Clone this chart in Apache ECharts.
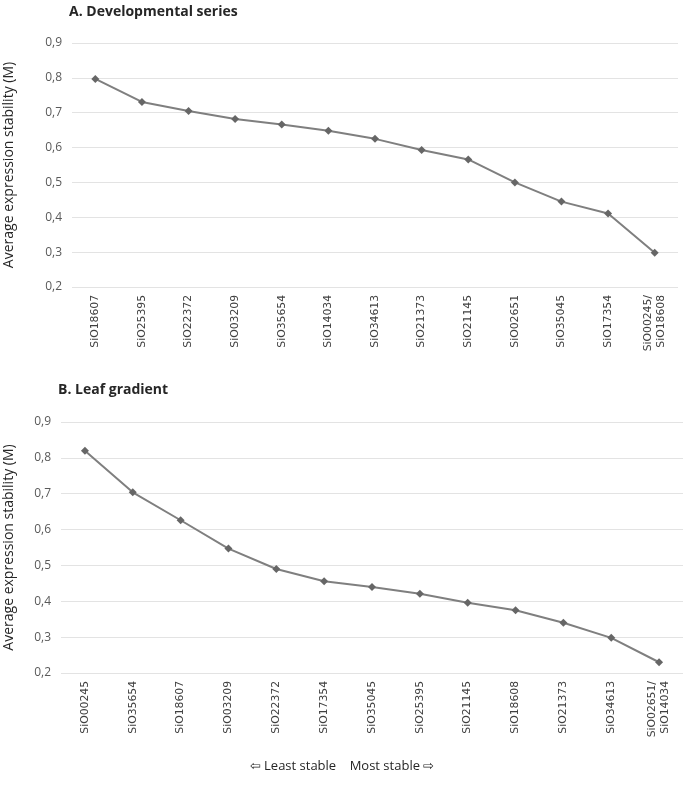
<!DOCTYPE html>
<html>
<head>
<meta charset="utf-8">
<script src="https://cdn.jsdelivr.net/npm/echarts@6/dist/echarts.min.js"></script>
<style>
html,body{margin:0;padding:0;background:#fff;}
#c{width:684px;height:799px;}
</style>
</head>
<body>
<div id="c"></div>
<script>
const catsA = ['SiO18607','SiO25395','SiO22372','SiO03209','SiO35654','SiO14034','SiO34613','SiO21373','SiO21145','SiO02651','SiO35045','SiO17354','SiO00245/\nSiO18608'];
const valsA = [0.797,0.731,0.705,0.682,0.666,0.648,0.625,0.593,0.566,0.500,0.445,0.411,0.298];
const catsB = ['SiO00245','SiO35654','SiO18607','SiO03209','SiO22372','SiO17354','SiO35045','SiO25395','SiO21145','SiO18608','SiO21373','SiO34613','SiO02651/\nSiO14034'];
const valsB = [0.820,0.704,0.626,0.547,0.490,0.456,0.440,0.421,0.396,0.375,0.340,0.298,0.230];
const yTicks = [0.2,0.3,0.4,0.5,0.6,0.7,0.8,0.9];
const titleA = 'A. Developmental series';
const titleB = 'B. Leaf gradient';
const yName = 'Average expression stability (M)';
const footer = '\u21E6 Least stable    Most stable \u21E8';

const chart = echarts.init(document.getElementById('c'), null, {renderer:'canvas'});
const xAxisCommon = {
  type:'category', boundaryGap:true,
  axisLine:{show:false}, axisTick:{show:false},
  axisLabel:{rotate:90, interval:0, fontFamily:'DejaVu Sans', fontSize:10.8, color:'#404040', margin:8, lineHeight:13}
};
const yAxisCommon = {
  type:'value', min:yTicks[0], max:yTicks[yTicks.length-1], interval:0.1,
  axisLine:{show:false}, axisTick:{show:false},
  splitLine:{lineStyle:{color:'#e3e3e3', width:1}},
  axisLabel:{fontFamily:'Open Sans', fontSize:12, color:'#595959', margin:10,
    formatter:v=>v.toFixed(1).replace('.',',')},
  name:yName, nameLocation:'middle', nameRotate:90,
  nameTextStyle:{fontFamily:'Open Sans', fontSize:14, color:'#262626'}
};
const seriesCommon = {
  type:'line', symbol:'diamond', symbolSize:8,
  lineStyle:{color:'#7f7f7f', width:2},
  itemStyle:{color:'#666666'}
};
chart.setOption({
  animation:false,
  title:[
    {text:titleA, left:64, top:0, textStyle:{fontFamily:'Open Sans', fontWeight:'bold', fontSize:14, color:'#262626'}},
    {text:titleB, left:53, top:378, textStyle:{fontFamily:'Open Sans', fontWeight:'bold', fontSize:14, color:'#262626'}},
    {text:footer, left:'center', top:755, textStyle:{fontFamily:'Open Sans', fontWeight:'normal', fontSize:13, color:'#262626'}}
  ],
  grid:[
    {left:72, right:6, top:43, height:244, containLabel:false, outerBoundsMode:'none'},
    {left:61, right:1, top:422, height:251, containLabel:false, outerBoundsMode:'none'}
  ],
  xAxis:[
    Object.assign({}, xAxisCommon, {gridIndex:0, data:catsA}),
    Object.assign({}, xAxisCommon, {gridIndex:1, data:catsB})
  ],
  yAxis:[
    Object.assign({}, yAxisCommon, {gridIndex:0, nameGap:56}),
    Object.assign({}, yAxisCommon, {gridIndex:1, nameGap:45})
  ],
  series:[
    Object.assign({}, seriesCommon, {xAxisIndex:0, yAxisIndex:0, data:valsA}),
    Object.assign({}, seriesCommon, {xAxisIndex:1, yAxisIndex:1, data:valsB})
  ]
});
</script>
</body>
</html>
